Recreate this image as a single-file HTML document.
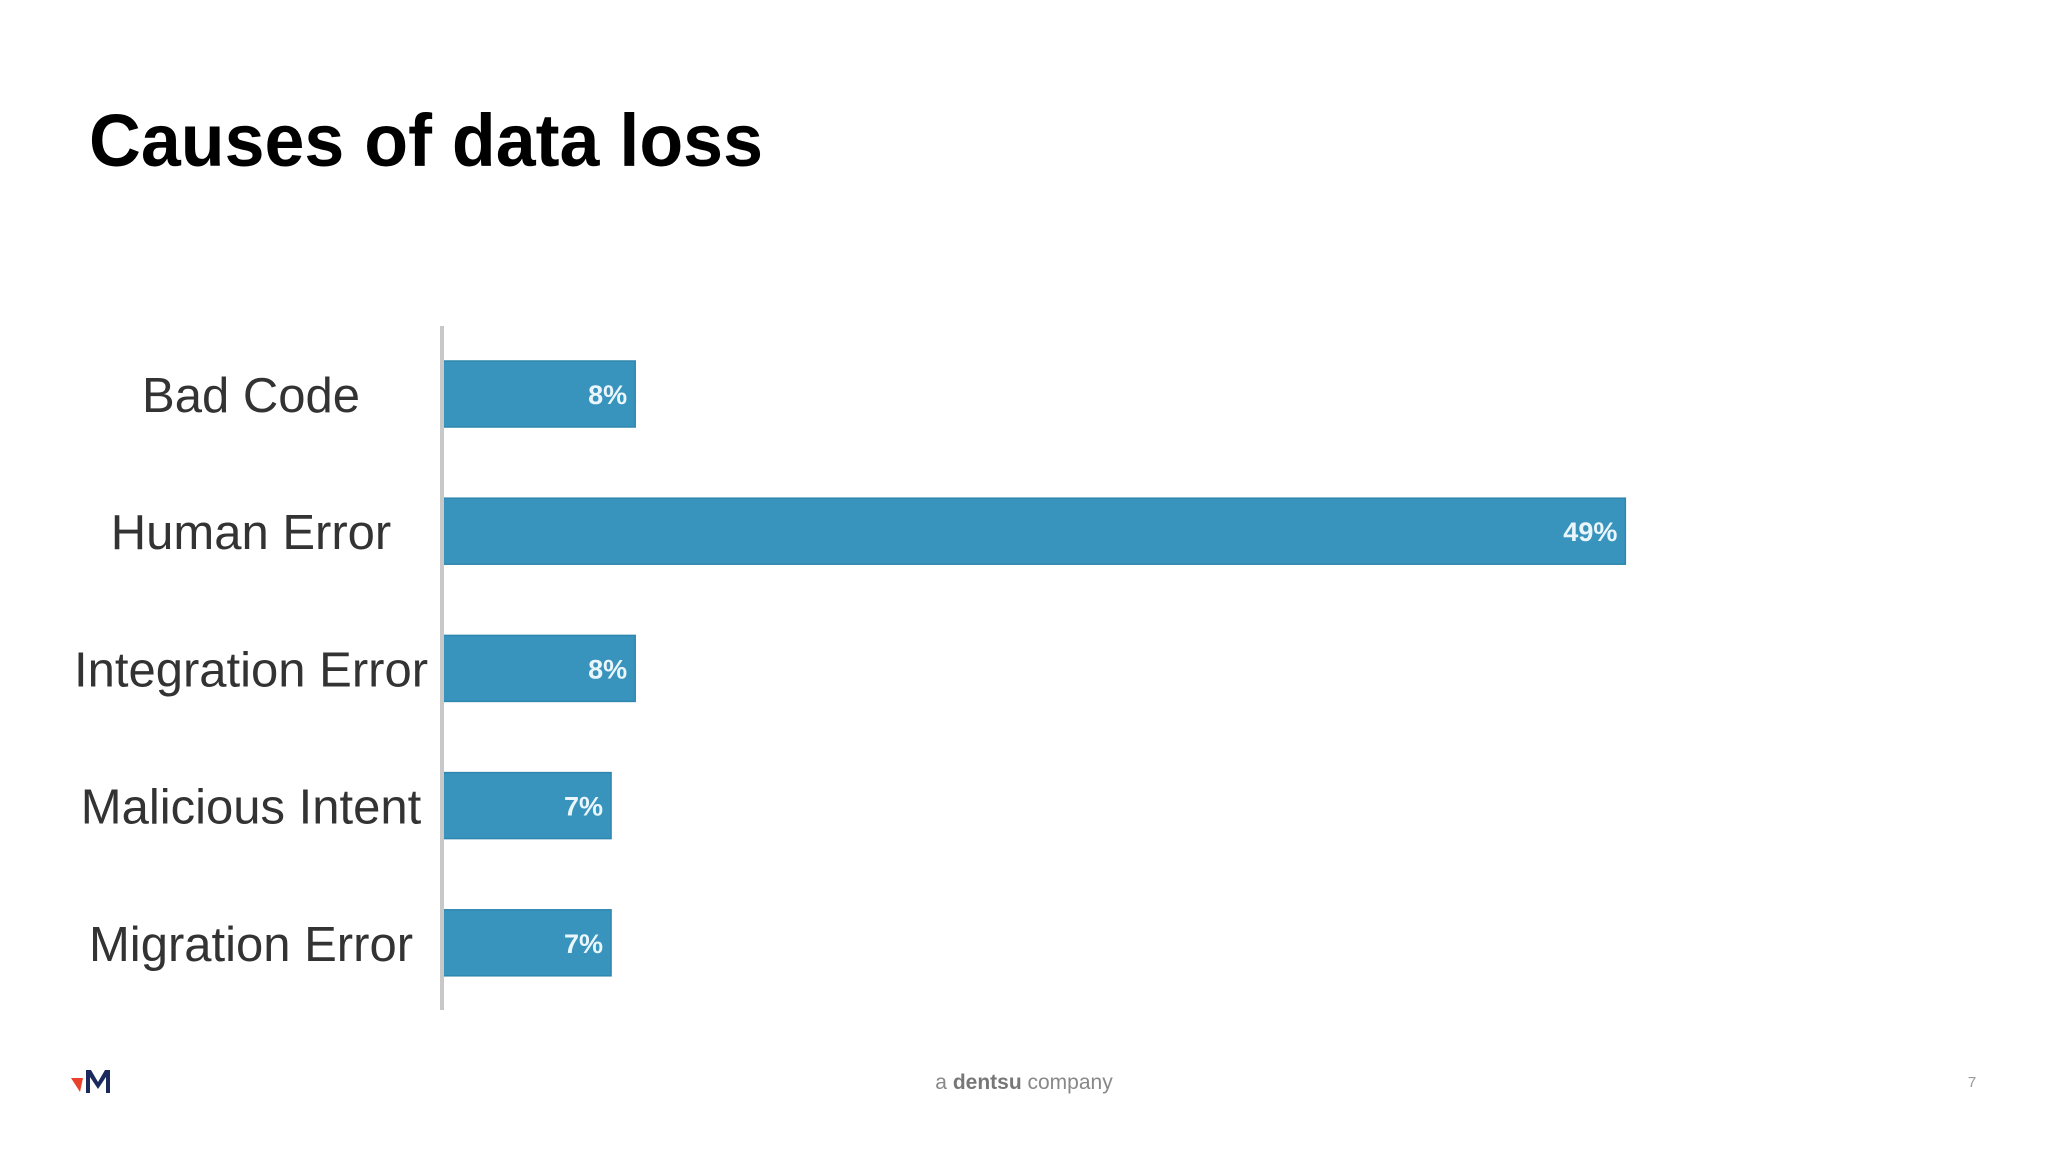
<!DOCTYPE html>
<html><head><meta charset="utf-8"><style>
html,body{margin:0;padding:0;background:#fff;}
svg{display:block;}
text{font-family:"Liberation Sans",sans-serif;}
</style></head><body>
<svg id="chart" width="2048" height="1152" viewBox="0 0 2048 1152">
<rect x="0" y="0" width="2048" height="1152" fill="#ffffff"/>
<text x="89" y="166" font-size="74" font-weight="bold" fill="#000" textLength="674" lengthAdjust="spacingAndGlyphs">Causes of data loss</text>
<g id="bars"></g>
<line x1="442" y1="326" x2="442" y2="1010" stroke="#c8c8c8" stroke-width="4"/>
<g>
<polygon points="71,1078 83,1078 80,1092" fill="#e8412c"/>
<path d="M86,1093 V1070 H91 L98,1082 L105,1070 H110 V1093 H106 V1077 L98,1089 L90,1077 V1093 Z" fill="#1b2a5c"/>
</g>
<text x="1024" y="1089" font-size="21" fill="#888" text-anchor="middle">a <tspan font-weight="bold" fill="#777">dentsu</tspan> company</text>
<text x="1972" y="1087" font-size="15" fill="#999" text-anchor="middle">7</text>
</svg>
<script>
const categories = ["Bad Code", "Human Error", "Integration Error", "Malicious Intent", "Migration Error"];
const values = [8, 49, 8, 7, 7];
const valueLabels = ["8%", "49%", "8%", "7%", "7%"];

const x0 = 442, pxPerUnit = 24.15;
const yTop = 394, step = 137.2, barH = 66;
function xScale(v){ return x0 + v * pxPerUnit; }
function yScale(i){ return yTop + i * step; }

const g = document.getElementById('bars');
const NS = 'http://www.w3.org/2000/svg';
categories.forEach((c, i) => {
  const cy = yScale(i);
  const r = document.createElementNS(NS, 'rect');
  r.setAttribute('x', x0);
  r.setAttribute('y', cy - barH / 2);
  r.setAttribute('width', xScale(values[i]) - x0);
  r.setAttribute('height', barH);
  r.setAttribute('fill', '#3894bd');
  r.setAttribute('stroke', '#2f86ae');
  r.setAttribute('stroke-width', '1.5');
  
  
  g.appendChild(r);

  const vl = document.createElementNS(NS, 'text');
  vl.setAttribute('x', xScale(values[i]) - 8);
  vl.setAttribute('y', cy + 10);
  vl.setAttribute('font-size', '27');
  vl.setAttribute('font-weight', 'bold');
  vl.setAttribute('fill', '#eaf6fb');
  vl.setAttribute('text-anchor', 'end');
  vl.textContent = valueLabels[i];
  
  
  g.appendChild(vl);

  const cl = document.createElementNS(NS, 'text');
  cl.setAttribute('x', 251);
  cl.setAttribute('y', cy + 18);
  cl.setAttribute('font-size', '49');
  cl.setAttribute('fill', '#333');
  cl.setAttribute('text-anchor', 'middle');
  cl.textContent = c;
  
  
  g.appendChild(cl);
});
</script>
</body></html>
